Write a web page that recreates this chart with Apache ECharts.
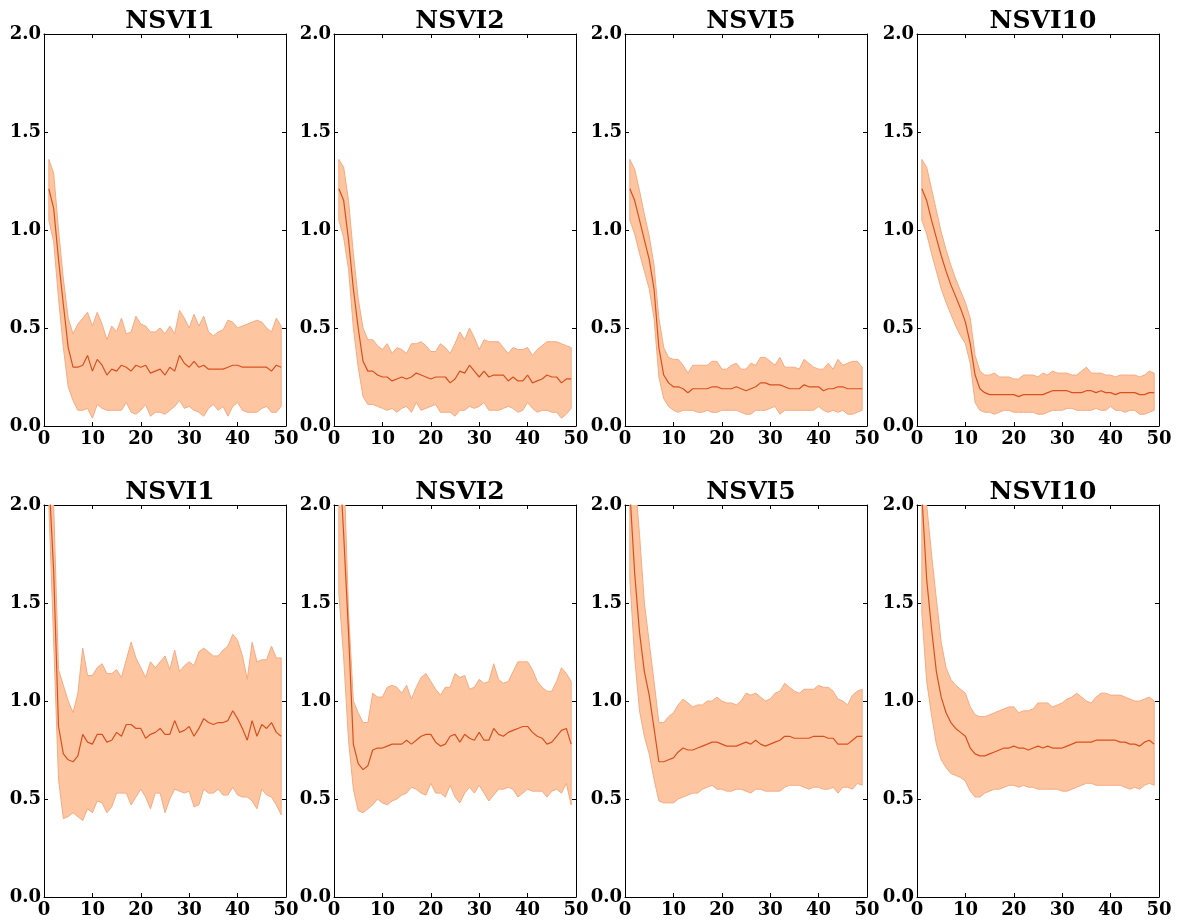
<!DOCTYPE html>
<html>
<head>
<meta charset="utf-8">
<script src="https://cdn.jsdelivr.net/npm/echarts@6/dist/echarts.min.js"></script>
<style>
html,body{margin:0;padding:0;background:#fff;}
#chart{width:1179px;height:923px;}
</style>
</head>
<body>
<div id="chart"></div>
<script>
// ---------- DATA ----------
const epochs = [1,2,3,4,5,6,7,8,9,10,11,12,13,14,15,16,17,18,19,20,21,22,23,24,25,26,27,28,29,30,31,32,33,34,35,36,37,38,39,40,41,42,43,44,45,46,47,48,49];
const titles = ["NSVI1","NSVI2","NSVI5","NSVI10","NSVI1","NSVI2","NSVI5","NSVI10"];
const xTicks = [0,10,20,30,40,50];
const yTicks = [0.0,0.5,1.0,1.5,2.0];

// Top row
const t1Mean = [1.21,1.11,0.85,0.62,0.40,0.30,0.30,0.31,0.36,0.28,0.34,0.31,0.26,0.29,0.28,0.31,0.30,0.28,0.31,0.30,0.31,0.27,0.28,0.29,0.26,0.30,0.28,0.36,0.32,0.30,0.33,0.30,0.31,0.29,0.29,0.29,0.29,0.30,0.31,0.31,0.30,0.30,0.30,0.30,0.30,0.30,0.28,0.31,0.30];
const t1Up   = [1.36,1.29,1.00,0.75,0.55,0.47,0.52,0.55,0.58,0.51,0.58,0.52,0.44,0.51,0.48,0.55,0.47,0.48,0.56,0.52,0.51,0.48,0.48,0.50,0.47,0.51,0.47,0.59,0.55,0.50,0.57,0.51,0.56,0.48,0.46,0.48,0.49,0.54,0.53,0.50,0.51,0.52,0.53,0.54,0.53,0.50,0.48,0.55,0.51];
const t1Lo   = [1.05,0.94,0.65,0.40,0.20,0.13,0.08,0.08,0.09,0.04,0.11,0.09,0.08,0.08,0.08,0.08,0.12,0.07,0.06,0.08,0.11,0.05,0.07,0.07,0.06,0.08,0.10,0.13,0.09,0.10,0.08,0.07,0.05,0.09,0.11,0.08,0.10,0.05,0.10,0.12,0.08,0.07,0.07,0.07,0.09,0.10,0.07,0.07,0.10];

const t2Mean = [1.21,1.15,0.95,0.70,0.50,0.33,0.28,0.28,0.26,0.25,0.25,0.23,0.24,0.25,0.24,0.25,0.27,0.26,0.25,0.24,0.25,0.25,0.25,0.22,0.24,0.28,0.27,0.31,0.28,0.25,0.28,0.25,0.26,0.26,0.26,0.23,0.25,0.23,0.23,0.26,0.22,0.23,0.24,0.26,0.25,0.25,0.22,0.24,0.24];
const t2Up   = [1.36,1.32,1.15,0.88,0.65,0.50,0.44,0.44,0.41,0.39,0.42,0.37,0.40,0.39,0.37,0.42,0.42,0.43,0.41,0.38,0.38,0.42,0.40,0.37,0.42,0.48,0.44,0.50,0.45,0.39,0.44,0.43,0.43,0.43,0.40,0.37,0.40,0.39,0.39,0.40,0.36,0.39,0.41,0.43,0.43,0.43,0.42,0.41,0.40];
const t2Lo   = [1.05,0.96,0.80,0.50,0.30,0.15,0.11,0.11,0.10,0.09,0.08,0.09,0.07,0.09,0.10,0.07,0.12,0.08,0.09,0.10,0.11,0.07,0.07,0.07,0.05,0.08,0.08,0.10,0.09,0.10,0.12,0.08,0.08,0.08,0.09,0.10,0.09,0.07,0.08,0.12,0.09,0.07,0.08,0.08,0.07,0.07,0.04,0.06,0.09];

const t5Mean = [1.21,1.15,1.05,0.95,0.85,0.70,0.40,0.26,0.22,0.20,0.20,0.19,0.17,0.19,0.19,0.19,0.19,0.20,0.20,0.19,0.19,0.19,0.20,0.19,0.18,0.19,0.20,0.22,0.22,0.21,0.21,0.21,0.20,0.19,0.19,0.19,0.21,0.20,0.20,0.20,0.18,0.19,0.19,0.20,0.20,0.19,0.19,0.19,0.19];
const t5Up   = [1.36,1.31,1.20,1.08,0.97,0.82,0.55,0.40,0.35,0.34,0.34,0.31,0.27,0.31,0.31,0.31,0.31,0.33,0.33,0.29,0.29,0.31,0.32,0.29,0.29,0.32,0.31,0.35,0.35,0.33,0.31,0.35,0.30,0.30,0.30,0.29,0.34,0.32,0.30,0.29,0.29,0.32,0.29,0.34,0.31,0.32,0.33,0.33,0.30];
const t5Lo   = [1.05,0.98,0.88,0.79,0.70,0.55,0.25,0.14,0.10,0.08,0.07,0.08,0.08,0.08,0.07,0.07,0.08,0.07,0.07,0.08,0.08,0.08,0.08,0.07,0.06,0.06,0.08,0.08,0.08,0.09,0.10,0.06,0.08,0.08,0.08,0.08,0.08,0.08,0.08,0.10,0.08,0.07,0.08,0.07,0.08,0.06,0.06,0.07,0.08];

const t10Mean = [1.21,1.15,1.05,0.96,0.87,0.79,0.72,0.66,0.60,0.53,0.42,0.26,0.19,0.17,0.16,0.16,0.16,0.16,0.16,0.16,0.15,0.16,0.16,0.16,0.16,0.16,0.17,0.18,0.18,0.18,0.18,0.17,0.17,0.17,0.18,0.18,0.17,0.18,0.17,0.17,0.16,0.17,0.17,0.17,0.17,0.16,0.16,0.17,0.17];
const t10Up   = [1.36,1.32,1.21,1.10,0.99,0.90,0.82,0.75,0.69,0.63,0.55,0.36,0.28,0.26,0.26,0.27,0.25,0.25,0.25,0.24,0.24,0.26,0.26,0.26,0.25,0.27,0.26,0.28,0.27,0.27,0.27,0.26,0.26,0.28,0.30,0.27,0.27,0.27,0.26,0.26,0.25,0.26,0.26,0.26,0.26,0.25,0.26,0.28,0.27];
const t10Lo   = [1.05,0.98,0.88,0.79,0.70,0.63,0.57,0.51,0.46,0.42,0.32,0.12,0.08,0.07,0.07,0.06,0.07,0.08,0.08,0.07,0.07,0.07,0.07,0.07,0.06,0.06,0.07,0.08,0.08,0.08,0.09,0.09,0.08,0.08,0.08,0.08,0.09,0.08,0.08,0.10,0.08,0.08,0.07,0.08,0.08,0.06,0.06,0.07,0.08];

// Bottom row
const b1Mean = [2.15,1.66,0.87,0.73,0.70,0.69,0.72,0.83,0.79,0.78,0.83,0.83,0.79,0.80,0.84,0.82,0.88,0.88,0.86,0.86,0.81,0.83,0.84,0.86,0.83,0.83,0.90,0.84,0.85,0.87,0.82,0.86,0.91,0.89,0.88,0.89,0.89,0.90,0.95,0.91,0.86,0.80,0.90,0.82,0.88,0.86,0.89,0.84,0.82];
const b1Up   = [2.40,2.00,1.16,1.08,1.00,0.94,1.04,1.27,1.13,1.13,1.17,1.19,1.14,1.14,1.16,1.12,1.21,1.30,1.22,1.17,1.12,1.20,1.17,1.20,1.23,1.16,1.26,1.15,1.18,1.20,1.18,1.25,1.27,1.25,1.23,1.23,1.26,1.28,1.34,1.31,1.23,1.11,1.30,1.20,1.21,1.21,1.28,1.22,1.22];
const b1Lo   = [2.00,1.30,0.60,0.40,0.41,0.43,0.41,0.39,0.45,0.43,0.49,0.48,0.43,0.46,0.53,0.53,0.53,0.47,0.51,0.55,0.51,0.45,0.53,0.53,0.43,0.50,0.55,0.54,0.53,0.54,0.46,0.47,0.55,0.53,0.53,0.55,0.52,0.52,0.56,0.52,0.51,0.51,0.49,0.45,0.55,0.52,0.51,0.47,0.42];

const b2Mean = [2.30,1.85,1.35,0.78,0.68,0.65,0.67,0.75,0.76,0.76,0.77,0.78,0.78,0.78,0.80,0.78,0.80,0.82,0.83,0.83,0.79,0.77,0.78,0.82,0.83,0.79,0.83,0.81,0.80,0.84,0.80,0.80,0.86,0.83,0.82,0.84,0.85,0.86,0.87,0.87,0.84,0.82,0.81,0.78,0.79,0.82,0.85,0.86,0.78];
const b2Up   = [2.70,2.23,1.46,1.00,0.94,0.89,0.89,1.04,1.02,1.02,1.07,1.08,1.07,1.04,1.08,1.01,1.07,1.12,1.14,1.10,1.06,1.03,1.07,1.07,1.14,1.12,1.13,1.06,1.07,1.11,1.09,1.10,1.19,1.11,1.09,1.10,1.15,1.20,1.20,1.20,1.16,1.10,1.07,1.05,1.05,1.10,1.17,1.14,1.10];
const b2Lo   = [1.55,1.22,0.80,0.55,0.44,0.43,0.45,0.47,0.50,0.48,0.47,0.49,0.50,0.52,0.53,0.56,0.55,0.53,0.52,0.58,0.53,0.53,0.51,0.57,0.51,0.48,0.53,0.56,0.53,0.57,0.53,0.49,0.52,0.55,0.55,0.56,0.55,0.51,0.53,0.55,0.54,0.54,0.54,0.51,0.54,0.55,0.53,0.58,0.47];

const b5Mean = [2.07,1.65,1.35,1.15,1.03,0.86,0.69,0.69,0.70,0.71,0.74,0.76,0.75,0.75,0.76,0.77,0.78,0.79,0.79,0.78,0.77,0.77,0.77,0.78,0.79,0.78,0.80,0.78,0.77,0.78,0.79,0.80,0.82,0.82,0.81,0.81,0.81,0.81,0.82,0.82,0.82,0.81,0.81,0.78,0.78,0.78,0.80,0.82,0.82];
const b5Up   = [2.60,2.15,1.85,1.50,1.30,1.10,0.89,0.89,0.92,0.94,0.98,1.01,0.99,0.97,0.98,0.98,1.00,1.00,1.02,1.00,0.99,0.99,0.98,1.00,1.04,1.03,1.04,1.02,1.00,1.01,1.04,1.05,1.09,1.07,1.05,1.04,1.06,1.06,1.06,1.08,1.07,1.07,1.05,1.01,1.00,0.98,1.03,1.05,1.06];
const b5Lo   = [1.62,1.22,0.95,0.82,0.73,0.60,0.49,0.48,0.48,0.48,0.50,0.51,0.52,0.53,0.53,0.55,0.56,0.57,0.55,0.55,0.54,0.54,0.55,0.55,0.54,0.53,0.55,0.55,0.54,0.54,0.54,0.54,0.56,0.57,0.57,0.57,0.56,0.55,0.56,0.56,0.55,0.55,0.56,0.53,0.56,0.56,0.55,0.58,0.57];

const b10Mean = [2.05,1.62,1.37,1.15,1.02,0.94,0.89,0.86,0.84,0.82,0.76,0.73,0.72,0.72,0.73,0.74,0.75,0.76,0.76,0.77,0.76,0.76,0.75,0.76,0.77,0.76,0.77,0.76,0.76,0.76,0.77,0.78,0.79,0.79,0.79,0.79,0.80,0.80,0.80,0.80,0.80,0.79,0.79,0.78,0.78,0.77,0.79,0.80,0.78];
const b10Up   = [2.50,2.00,1.75,1.52,1.30,1.17,1.11,1.08,1.06,1.04,0.97,0.93,0.92,0.92,0.93,0.94,0.95,0.96,0.97,0.97,0.94,0.95,0.95,0.96,0.99,0.99,0.99,0.97,0.98,0.99,1.01,1.02,1.04,1.02,1.00,0.99,1.02,1.04,1.04,1.03,1.03,1.03,1.02,1.01,1.00,1.00,1.01,1.02,1.00];
const b10Lo   = [1.45,1.10,0.93,0.78,0.70,0.66,0.63,0.62,0.61,0.59,0.54,0.51,0.51,0.53,0.54,0.55,0.55,0.56,0.57,0.57,0.56,0.57,0.56,0.56,0.55,0.55,0.55,0.55,0.55,0.54,0.54,0.55,0.56,0.57,0.58,0.58,0.57,0.57,0.57,0.57,0.57,0.57,0.56,0.55,0.56,0.55,0.57,0.58,0.57];

const panels = [
  {mean:t1Mean, up:t1Up, lo:t1Lo},
  {mean:t2Mean, up:t2Up, lo:t2Lo},
  {mean:t5Mean, up:t5Up, lo:t5Lo},
  {mean:t10Mean, up:t10Up, lo:t10Lo},
  {mean:b1Mean, up:b1Up, lo:b1Lo},
  {mean:b2Mean, up:b2Up, lo:b2Lo},
  {mean:b5Mean, up:b5Up, lo:b5Lo},
  {mean:b10Mean, up:b10Up, lo:b10Lo}
];

// ---------- LAYOUT / STYLE ----------
const lefts = [44, 334, 625, 917];
const tops = [34, 505];
const gw = 242, gh = 392;
const FONT = "DejaVu Serif";
const fillColor = "#fdc6a0";
const edgeColor = "#f4ab84";
const lineColor = "#d9501e";

const grid = [], xAxis = [], yAxis = [], series = [], title = [];
panels.forEach((p, i) => {
  const row = Math.floor(i / 4), col = i % 4;
  grid.push({left: lefts[col], top: tops[row], width: gw, height: gh, containLabel: false});
  title.push({
    text: titles[i],
    left: lefts[col] + gw / 2,
    top: tops[row] - 30,
    textAlign: 'center',
    textStyle: {fontFamily: FONT, fontWeight: 'bold', fontSize: 25, color: '#000'}
  });
  const axLine = {show: true, onZero: false, lineStyle: {color: '#000', width: 1}};
  const tick = {show: true, inside: true, length: 4, lineStyle: {color: '#000', width: 1}};
  xAxis.push({
    type: 'value', gridIndex: i, min: 0, max: 50, interval: 10, position: 'bottom',
    axisLine: axLine, axisTick: tick, splitLine: {show: false},
    axisLabel: {show: true, showMinLabel: true, showMaxLabel: true, hideOverlap: false,
      fontFamily: FONT, fontWeight: 'bold', fontSize: 18, color: '#000', margin: 4,
      formatter: v => xTicks.includes(v) ? String(v) : ''}
  });
  xAxis.push({
    type: 'value', gridIndex: i, min: 0, max: 50, interval: 10, position: 'top',
    axisLine: axLine, axisTick: tick, splitLine: {show: false}, axisLabel: {show: false}
  });
  yAxis.push({
    type: 'value', gridIndex: i, min: 0, max: 2, interval: 0.5, position: 'left',
    axisLine: axLine, axisTick: tick, splitLine: {show: false},
    axisLabel: {show: true, showMinLabel: true, showMaxLabel: true, hideOverlap: false,
      fontFamily: FONT, fontWeight: 'bold', fontSize: 18, color: '#000', margin: 3,
      formatter: v => yTicks.some(t => Math.abs(t - v) < 1e-9) ? v.toFixed(1) : ''}
  });
  yAxis.push({
    type: 'value', gridIndex: i, min: 0, max: 2, interval: 0.5, position: 'right',
    axisLine: axLine, axisTick: tick, splitLine: {show: false}, axisLabel: {show: false}
  });
  const xi = 2 * i, yi = 2 * i;
  // band: custom polygon between lower and upper, mapped through the axes
  series.push({
    type: 'custom', xAxisIndex: xi, yAxisIndex: yi, clip: true, silent: true, z: 1,
    data: epochs.map((e, k) => [e, p.lo[k], p.up[k]]),
    encode: {x: 0, y: [1, 2]},
    renderItem: function (params, api) {
      if (params.dataIndex !== 0) return null;
      const upper = [], lower = [];
      for (let k = 0; k < epochs.length; k++) {
        upper.push(api.coord([epochs[k], p.up[k]]));
        lower.push(api.coord([epochs[k], p.lo[k]]));
      }
      const pts = upper.concat(lower.reverse());
      const cs = params.coordSys;
      return {
        type: 'polygon',
        shape: {points: pts},
        style: {fill: fillColor, stroke: edgeColor, lineWidth: 1},
        clipPath: {type: 'rect', shape: {x: cs.x, y: cs.y, width: cs.width, height: cs.height}}
      };
    }
  });
  series.push({
    type: 'line', xAxisIndex: xi, yAxisIndex: yi, symbol: 'none',
    data: epochs.map((e, k) => [e, p.mean[k]]),
    lineStyle: {color: lineColor, width: 1.2}, silent: true, clip: true, z: 3
  });
});

const chart = echarts.init(document.getElementById('chart'), null, {renderer: 'canvas'});
chart.setOption({
  animation: false,
  backgroundColor: '#ffffff',
  title, grid, xAxis, yAxis, series
});
</script>
</body>
</html>
